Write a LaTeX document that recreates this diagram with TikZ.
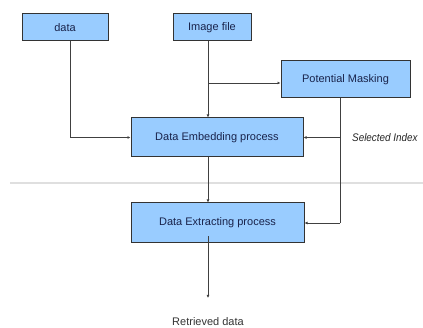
\documentclass[tikz,border=0pt]{standalone}
\usepackage{fontspec}
\setmainfont{Liberation Sans}
\usetikzlibrary{arrows.meta}
\definecolor{boxfill}{RGB}{153,204,255}
\definecolor{boxtext}{RGB}{25,35,75}
\begin{document}
\begin{tikzpicture}[x=1pt,y=-1pt,
  box/.style={draw=black!80, line width=1pt, fill=boxfill, text=boxtext, font=\fontsize{11}{13}\selectfont, inner sep=0pt, anchor=center},
  conn/.style={draw=black!75, line width=0.8pt, -{Latex[length=3pt,width=3pt]}},
  plain/.style={draw=black!75, line width=0.8pt}]
\useasboundingbox (0,0) rectangle (423,328);
\draw[gray!25, line width=1.2pt] (10,183) -- (423,183);
\node[box, minimum width=86pt, minimum height=27pt] (data) at (65,27.5) {data};
\node[box, minimum width=78pt, minimum height=27pt] (img) at (212,27.5) {Image file};
\node[box, minimum width=129pt, minimum height=37pt] (pm) at (345.5,79.5) {Potential Masking};
\node[box, minimum width=172pt, minimum height=39pt] (emb) at (217,137.5) {Data Embedding process};
\node[box, minimum width=173pt, minimum height=40pt] (ext) at (217.5,223) {Data Extracting process};
\node[font=\fontsize{11}{13}\selectfont, text=black!80] (ret) at (208,322) {Retrieved data};
\node[font=\itshape\fontsize{11}{13}\selectfont, text=black!85, anchor=west, inner sep=0pt, xscale=0.9] (sel) at (352,137.5) {Selected Index};
\coordinate (rt) at (208,298);
\coordinate (dc) at (70,137.5);
\coordinate (ib) at (208,83);
\coordinate (pe) at (340,137.5);
\coordinate (px) at (340,223);
% connectors
\draw[conn] (data.south -| dc) -- (dc) -- (emb.west);
\draw[conn] (img.south -| ib) -- (emb.north -| ib);
\draw[conn] (ib) -- (pm.west |- ib);
\draw[plain] (pm.south -| pe) -- (px);
\draw[conn] (pe) -- (emb.east);
\draw[conn] (px) -- (ext.east);
\draw[conn] (emb.south -| ib) -- (ext.north -| ib);
\draw[conn] ([yshift=7pt]ext.south -| ib) -- (rt);
\end{tikzpicture}
\end{document}
